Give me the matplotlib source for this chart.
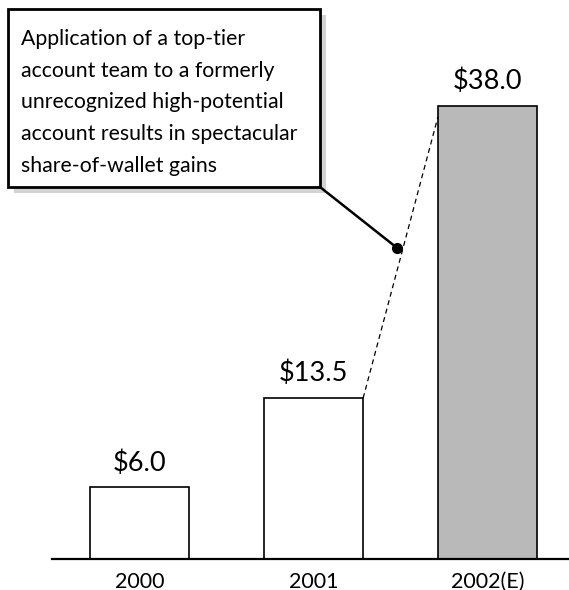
import matplotlib
matplotlib.use("Agg")
import matplotlib.pyplot as plt
from matplotlib.patches import Rectangle
from matplotlib.lines import Line2D

years = ["2000", "2001", "2002(E)"]
values = [6.0, 13.5, 38.0]
labels = ["$6.0", "$13.5", "$38.0"]
bar_colors = ["white", "white", "#b9b9b9"]
callout = [
    "Application of a top-tier",
    "account team to a formerly",
    "unrecognized high-potential",
    "account results in spectacular",
    "share-of-wallet gains",
]
dot_point = (1.48, 26.1)

plt.rcParams["font.family"] = ["Lato", "DejaVu Sans"]

W, H = 569, 590
fig = plt.figure(figsize=(W / 100, H / 100), dpi=100)
ax = fig.add_axes([52 / W, 31 / H, (W - 52) / W, 559 / H])

x = range(len(values))
bw = 0.57
ax.bar(x, values, width=bw, color=bar_colors, edgecolor="black", linewidth=1.2, zorder=2)

for i, v in enumerate(values):
    ax.text(i, v + 1.0, labels[i], ha="center", va="bottom", fontsize=19.5)

ax.set_xlim(-0.503, 2.468)
ax.set_ylim(0, 46.9)
ax.set_xticks(list(x))
ax.set_xticklabels(years, fontsize=15.5)
ax.tick_params(axis="x", length=0, pad=9)
ax.set_yticks([])
for s in ["top", "right", "left"]:
    ax.spines[s].set_visible(False)
ax.spines["bottom"].set_linewidth(1.6)

# dashed growth line between bar tops
ax.plot([1 + bw / 2, 2 - bw / 2], [values[1], values[2] - 0.9], ls=(0, (4, 3)),
        color="black", lw=0.9, zorder=3)

# callout box (figure pixel coords)
def fx(px):
    return px / W


def fy(py):
    return 1 - py / H


bx0, by0, bx1, by1 = 8, 9, 320, 187
sh = 6
fig.add_artist(Rectangle((fx(bx0 + sh), fy(by1 + sh)), fx(bx1 - bx0), (by1 - by0) / H,
                         transform=fig.transFigure, facecolor="#d3d3d3", edgecolor="none"))
fig.add_artist(Rectangle((fx(bx0), fy(by1)), fx(bx1 - bx0), (by1 - by0) / H,
                         transform=fig.transFigure, facecolor="white", edgecolor="black",
                         linewidth=2.0))

baselines = [45, 77, 108, 140, 172]
for line, b in zip(callout, baselines):
    fig.text(fx(21), fy(b), line, ha="left", va="baseline", fontsize=15.3)

# leader line from box corner to dot
dx, dy = ax.transData.transform(dot_point)
fig.add_artist(Line2D([fx(bx1), dx / W], [fy(by1), dy / H], transform=fig.transFigure,
                      color="black", lw=1.8))
ax.plot([dot_point[0]], [dot_point[1]], "o", color="black", ms=7, zorder=4, clip_on=False)

fig.savefig("out.png", dpi=100)
